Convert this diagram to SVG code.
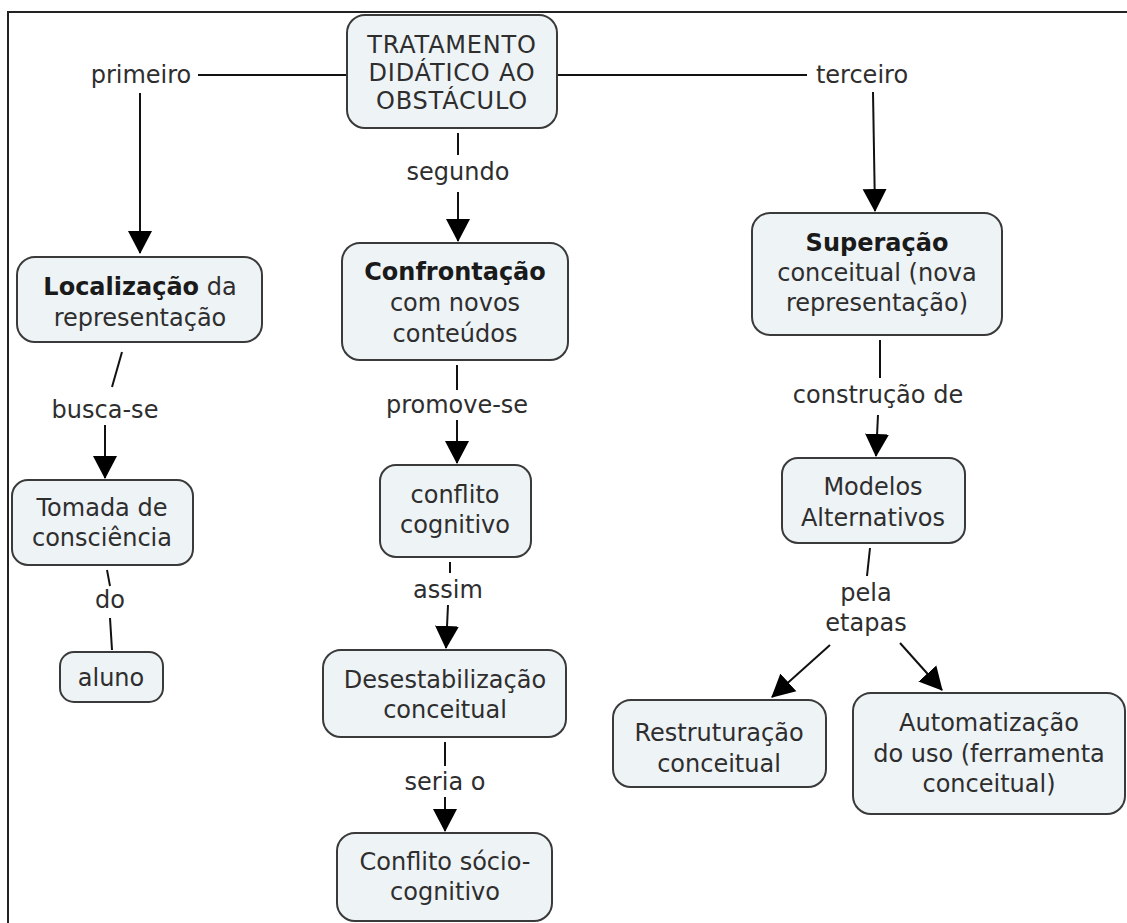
<svg xmlns="http://www.w3.org/2000/svg" width="1127" height="923" viewBox="0 0 1127 923">
<defs>
<marker id="ah" markerUnits="userSpaceOnUse" markerWidth="24" markerHeight="26" viewBox="0 0 24 26" refX="22" refY="13" orient="auto">
<path d="M0,1 L23,13 L0,25 Z" fill="#000"/>
</marker>
<style>
.n rect{fill:#eef3f6;stroke:#3a3a3a;stroke-width:2}
text{font-family:"DejaVu Sans",Verdana,sans-serif;font-size:24px;fill:#2e2e2e;text-anchor:middle}
.b{font-weight:bold;fill:#1a1a1a}
.r text{letter-spacing:0.8px}
.c line{stroke:#111;stroke-width:2}
.c .a{marker-end:url(#ah)}
</style>
</defs>
<rect width="1127" height="923" fill="#fff"/>
<path d="M8,923 L8,12 L1127,12" fill="none" stroke="#222" stroke-width="2"/>
<g class="c" id="connectors">
<line x1="347" y1="75" x2="198" y2="75"/>
<line class="a" x1="140" y1="93" x2="140" y2="253"/>
<line x1="557" y1="75" x2="807" y2="75"/>
<line class="a" x1="873" y1="92" x2="875" y2="211"/>
<line x1="458" y1="133" x2="458" y2="155"/>
<line class="a" x1="458" y1="192" x2="458" y2="241"/>
<line x1="122" y1="352" x2="112" y2="387"/>
<line class="a" x1="105" y1="425" x2="105" y2="478"/>
<line x1="107" y1="570" x2="110" y2="586"/>
<line x1="110" y1="618" x2="112" y2="650"/>
<line x1="457" y1="365" x2="457" y2="390"/>
<line class="a" x1="457" y1="420" x2="457" y2="463"/>
<line x1="450" y1="562" x2="450" y2="573"/>
<line class="a" x1="448" y1="605" x2="446" y2="648"/>
<line x1="445" y1="742" x2="445" y2="766"/>
<line class="a" x1="445" y1="797" x2="445" y2="831"/>
<line x1="880" y1="340" x2="880" y2="378"/>
<line class="a" x1="878" y1="415" x2="876" y2="456"/>
<line x1="870" y1="548" x2="867" y2="576"/>
<line class="a" x1="830" y1="645" x2="772" y2="697"/>
<line class="a" x1="900" y1="643" x2="942" y2="690"/>
</g>
<g id="labels">
<text x="141" y="83">primeiro</text>
<text x="862" y="83">terceiro</text>
<text x="458" y="180">segundo</text>
<text x="105" y="418">busca-se</text>
<text x="110" y="608">do</text>
<text x="457" y="413">promove-se</text>
<text x="448" y="598">assim</text>
<text x="445" y="790">seria o</text>
<text x="878" y="403">construção de</text>
<text x="866" y="601">pela</text>
<text x="866" y="631">etapas</text>
</g>
<g class="n r" id="n-root"><rect x="347" y="15" width="210" height="113" rx="18"/>
<text x="452" y="53">TRATAMENTO</text><text x="452" y="81">DIDÁTICO AO</text><text x="452" y="109">OBSTÁCULO</text></g>
<g class="n" id="n-loc"><rect x="17" y="257" width="245" height="85" rx="18"/>
<text x="140" y="295"><tspan class="b">Localização</tspan> da</text><text x="140" y="326">representação</text></g>
<g class="n" id="n-tomada"><rect x="12" y="480" width="181" height="85" rx="16"/>
<text x="102" y="516">Tomada de</text><text x="102" y="546">consciência</text></g>
<g class="n" id="n-aluno"><rect x="60" y="652" width="103" height="50" rx="14"/>
<text x="111" y="686">aluno</text></g>
<g class="n" id="n-confront"><rect x="342" y="243" width="226" height="117" rx="18"/>
<text x="455" y="280" class="b">Confrontação</text><text x="455" y="311">com novos</text><text x="455" y="342">conteúdos</text></g>
<g class="n" id="n-conflito"><rect x="380" y="465" width="151" height="92" rx="16"/>
<text x="455" y="503">conflito</text><text x="455" y="533">cognitivo</text></g>
<g class="n" id="n-desest"><rect x="323" y="650" width="243" height="87" rx="18"/>
<text x="445" y="688">Desestabilização</text><text x="445" y="718">conceitual</text></g>
<g class="n" id="n-socio"><rect x="337" y="833" width="215" height="88" rx="18"/>
<text x="445" y="870">Conflito sócio-</text><text x="445" y="900">cognitivo</text></g>
<g class="n" id="n-super"><rect x="752" y="213" width="250" height="122" rx="18"/>
<text x="877" y="251" class="b">Superação</text><text x="877" y="281">conceitual (nova</text><text x="877" y="311">representação)</text></g>
<g class="n" id="n-modelos"><rect x="782" y="458" width="183" height="85" rx="16"/>
<text x="873" y="495">Modelos</text><text x="873" y="526">Alternativos</text></g>
<g class="n" id="n-restr"><rect x="613" y="700" width="213" height="87" rx="18"/>
<text x="719" y="741">Restruturação</text><text x="719" y="772">conceitual</text></g>
<g class="n" id="n-autom"><rect x="853" y="693" width="272" height="121" rx="18"/>
<text x="989" y="731">Automatização</text><text x="989" y="762">do uso (ferramenta</text><text x="989" y="792">conceitual)</text></g>
</svg>
